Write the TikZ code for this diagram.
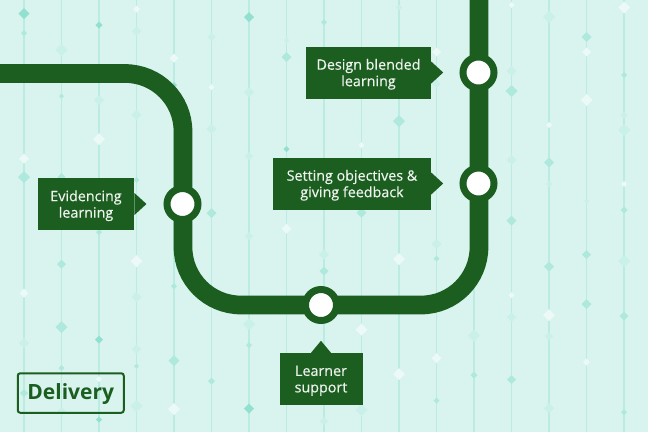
\documentclass[tikz,border=0pt]{standalone}
\usepackage{fontspec}
\setmainfont{Open Sans}
\usetikzlibrary{positioning}
\definecolor{linegreen}{HTML}{1B5E20}
\definecolor{paper}{HTML}{D9F3EF}
\definecolor{rail}{HTML}{BBECE2}
\definecolor{gemw}{HTML}{EBF9F7}
\definecolor{geml}{HTML}{C9F0E9}
\definecolor{gemm}{HTML}{AFE9DE}
\definecolor{gemd}{HTML}{92E1D0}
\tikzset{
    track/.style={draw=linegreen,line width=18.7pt,rounded corners=58pt},
    stop/.style={circle,draw=linegreen,fill=white,line width=7pt,minimum size=31pt,inner sep=0pt},
    tag/.style={fill=linegreen,text=white!92!linegreen,align=center,inner sep=0pt,minimum height=52pt,text depth=0pt,
        font=\fontsize{14.3}{16.5}\selectfont\addfontfeatures{FakeBold=0.4}},
    title/.style={draw=linegreen,line width=2pt,rounded corners=2.5pt,text=linegreen,inner sep=0pt,text depth=3pt,
        minimum width=106pt,minimum height=39.5pt,font=\fontsize{21}{24}\selectfont\bfseries},
}
\begin{document}
\begin{tikzpicture}[x=1pt,y=-1pt,node distance=100pt,on grid]
    \useasboundingbox[fill=paper] (0,0) rectangle (648,432);
    % background rails
    \foreach \x in {24,61.5,...,625}
        \draw[rail,line width=1.4pt] (\x,0) -- (\x,432);
    % gems: x/y/radius/colour
    \foreach \x/\y/\r/\c in {
        24/13.5/5.5/gemd,24/33/3/gemm,24/158.5/5/gemw,24/177/6/gemm,24/293/4.5/gemw,24/343/5/geml,24/393/4/gemm,
        61.5/50/6/geml,61.5/96/2.5/gemm,61.5/177/4/gemm,61.5/264/4.5/gemm,61.5/327/6/gemm,61.5/368/3/gemm,61.5/411/4/geml,
        99/25/3.5/gemd,99/100/5/geml,99/139/6/gemw,99/232/3/gemm,99/339.5/4/gemd,99/379/3/gemw,99/419.5/3/gemd,
        136.5/9/3.5/gemw,136.5/31/4.5/geml,136.5/115/5/geml,136.5/180/3/gemm,136.5/261/6/gemw,136.5/297/5/geml,
        136.5/349/4.5/geml,136.5/366/2.5/gemm,136.5/406/6/geml,
        174/58/4.5/gemw,174/85/3/gemd,174/286/3/gemm,174/360.5/5.5/gemm,174/409/6/gemw,
        211.5/37/4/geml,211.5/87/3/gemw,211.5/129/5/geml,211.5/213/5/gemm,211.5/381/3.5/gemm,
        249/17/5/gemd,249/92/5/geml,249/156/4/geml,249/236/4/geml,249/324/6/geml,249/345/3/gemm,249/408.5/5/gemd,
        286.5/40/2.5/geml,286.5/57/5/gemm,286.5/149/3/gemd,286.5/228.5/5/gemw,
        324/22/3/gemm,324/254.5/5/geml,324/271/4.5/gemm,324/421/4/geml,
        361.5/145/3/gemw,361.5/212.5/5/gemm,361.5/329.5/6/gemw,361.5/410/6/geml,
        399/7.5/3/geml,399/121/6/gemm,399/259/6/gemw,399/374/6/gemw,
        436.5/52/4.5/gemw,436.5/84/4/geml,436.5/244/5/geml,436.5/258.5/3/gemm,436.5/358/5/gemw,436.5/400.5/3/gemm,
        474/335.5/6/geml,474/375/3.5/gemm,
        511.5/5/3/gemw,511.5/71/5/geml,511.5/91/6/gemm,511.5/160/5/geml,511.5/220.5/5/gemm,511.5/295/3/gemw,
        511.5/317/4.5/geml,511.5/379.5/4.5/gemm,
        549/17/6/geml,549/125/3/gemw,549/162.5/5/gemm,549/184/3/geml,549/266.5/5/gemm,549/315/6/gemw,549/336/4/geml,549/408/5/geml,
        586.5/37/5/gemm,586.5/52/4.5/gemw,586.5/100/6/gemw,586.5/201/2.5/geml,586.5/254.5/4.5/gemm,586.5/304/5/gemm,586.5/362/3.5/gemw,
        624/7.5/6/gemw,624/75/3/gemm,624/115/3.5/geml,624/130/6/geml,624/184/3/gemw,624/210/3.5/gemm,624/261/6/geml,624/316/4.5/gemm,624/412/3/gemm}
        \fill[\c] (\x-\r,\y) -- (\x,\y-\r) -- (\x+\r,\y) -- (\x,\y+\r) -- cycle;

    % the line
    \coordinate (in)    at (0,73.5);
    \coordinate (out)   at (479,0);
    \coordinate (bendA) at (183,73.5);
    \coordinate (bendB) at (183,305);
    \coordinate (bendC) at (479,305);
    \draw[track] (in) -- (bendA) -- (bendB) -- (bendC) -- (out);

    \node[stop] (s_1) at (182.5,204)  {};
    \node[stop] (s_2) at (321,305)    {};
    \node[stop] (s_3) at (478.5,183.5) {};
    \node[stop] (s_4) at (478.5,72.5) {};

    \node[tag,minimum width=96.5pt] (t_1) [left=96.5pt of s_1]  {Evidencing\\learning};
    \node[tag,minimum width=83pt]   (t_2) [below=74pt of s_2]   {Learner\\support};
    \node[tag,minimum width=158pt]  (t_3) [left=126.5pt of s_3] {Setting objectives \&\\giving feedback};
    \node[tag,minimum width=125pt]  (t_4) [left=110pt of s_4]   {Design blended\\learning};

    % pointers
    \foreach \t in {t_1,t_3,t_4}
        \fill[linegreen] ([yshift=11pt]\t.east) -- ++(12pt,-11pt) -- ++(-12pt,-11pt) -- cycle;
    \fill[linegreen] ([xshift=-10pt]t_2.north) -- ++(10pt,12pt) -- ++(10pt,-12pt) -- cycle;

    \node[title] (delivery) at (70.75,393) {Delivery};
\end{tikzpicture}
\end{document}
